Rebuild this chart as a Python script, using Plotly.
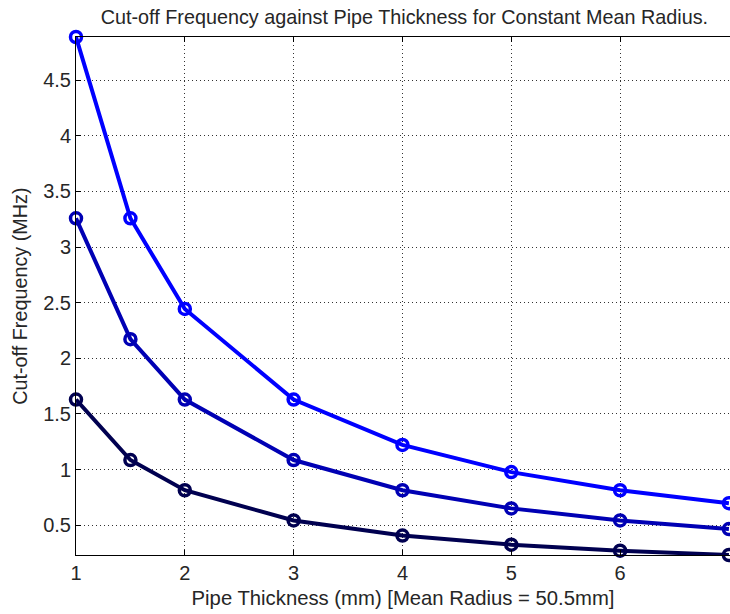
import plotly.graph_objects as go

# Pipe wall thickness (mm) and cut-off frequencies (MHz) for the first three modes
thickness = [1, 1.5, 2, 3, 4, 5, 6, 7]
mode1 = [1.629, 1.086, 0.8145, 0.543, 0.4073, 0.3258, 0.2715, 0.2327]
mode2 = [3.258, 2.172, 1.629, 1.086, 0.8145, 0.6516, 0.543, 0.4654]
mode3 = [4.887, 3.258, 2.4435, 1.629, 1.2218, 0.9774, 0.8145, 0.6981]

series = [
    (mode1, "#000050"),
    (mode2, "#0000B4"),
    (mode3, "#0000FF"),
]

y_ticks = [0.5, 1, 1.5, 2, 2.5, 3, 3.5, 4, 4.5]
y_tick_text = ["0.5", "1", "1.5", "2", "2.5", "3", "3.5", "4", "4.5"]
x_ticks = [1, 2, 3, 4, 5, 6]

fig = go.Figure()
for values, color in series:
    fig.add_trace(go.Scatter(
        x=thickness, y=values, mode="lines+markers",
        line=dict(color=color, width=4),
        marker=dict(symbol="circle-open", size=11, color=color,
                    line=dict(color=color, width=3.5)),
        cliponaxis=False, showlegend=False,
    ))

font = "Liberation Sans, Arial, sans-serif"
text_color = "#262626"
fig.update_layout(
    width=730, height=614,
    margin=dict(l=76, r=0, t=37, b=59),
    paper_bgcolor="white", plot_bgcolor="white",
    font=dict(family=font, size=20, color=text_color),
    title=dict(text="Cut-off Frequency against Pipe Thickness for Constant Mean Radius.",
               x=0.554, xanchor="center", y=0.972, yanchor="middle",
               font=dict(size=19.8, family=font, color=text_color)),
    xaxis=dict(
        range=[1, 7.01], tickvals=x_ticks, ticks="inside", ticklen=5,
        tickcolor="black", showline=True, linecolor="black", linewidth=1,
        mirror="ticks", showgrid=True, gridcolor="#333333",
        griddash="1px,3px", gridwidth=1, zeroline=False,
        tickfont=dict(size=20, family=font, color=text_color),
        title=dict(text="Pipe Thickness (mm) [Mean Radius = 50.5mm]", standoff=7,
                   font=dict(size=20.3, family=font, color=text_color)),
    ),
    yaxis=dict(
        range=[0.2327, 4.887], tickvals=y_ticks, ticktext=y_tick_text,
        ticks="inside", ticklen=5, tickcolor="black", showline=True,
        linecolor="black", linewidth=1, showgrid=True, gridcolor="#333333",
        griddash="1px,3px", gridwidth=1, zeroline=False,
        tickfont=dict(size=20, family=font, color=text_color),
    ),
)

# y-axis title placed a little further left than the automatic position
fig.add_annotation(
    text="Cut-off Frequency (MHz)", textangle=-90,
    xref="paper", yref="paper", x=-0.086, y=0.5,
    xanchor="center", yanchor="middle", showarrow=False,
    font=dict(size=19.8, family=font, color=text_color),
)

fig.write_html("out.html")
